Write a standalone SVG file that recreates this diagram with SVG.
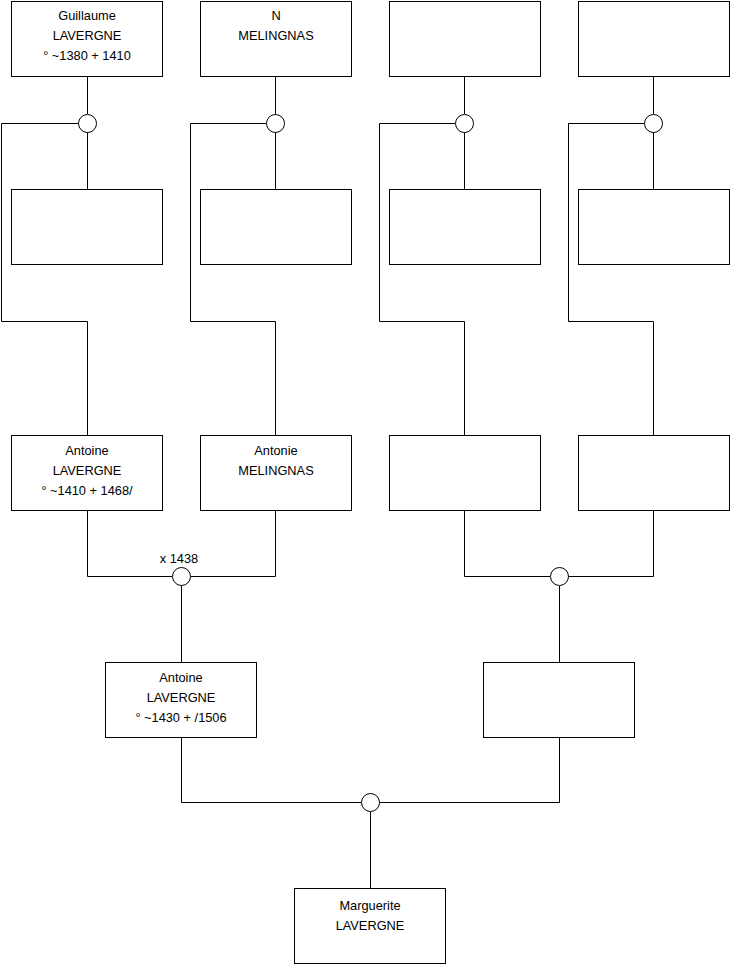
<svg xmlns="http://www.w3.org/2000/svg" width="740" height="975" viewBox="0 0 740 975">
<style>
.box{fill:#fff;stroke:#000;stroke-width:1}
.c{fill:#fff;stroke:#000;stroke-width:1}
.l{fill:none;stroke:#000;stroke-width:1}
text{font-family:"Liberation Sans",Arial,sans-serif;font-size:12.8px;fill:#000;text-anchor:middle}
</style>
<rect width="740" height="975" fill="#fff"/>
<g id="connectors">
<path class="l" d="M87.5 76.5V114M87.5 132V189.5M78 123.5H1.5V321.5H87.5V435.5"/>
<path class="l" d="M275.5 76.5V114M275.5 132V189.5M266 123.5H190.5V321.5H275.5V435.5"/>
<path class="l" d="M464.5 76.5V114M464.5 132V189.5M455 123.5H379.5V321.5H464.5V435.5"/>
<path class="l" d="M653.5 76.5V114M653.5 132V189.5M644 123.5H568.5V321.5H653.5V435.5"/>
<path class="l" d="M87.5 510.5V576.5H172M190 576.5H275.5V510.5M181.5 586V662.5"/>
<path class="l" d="M464.5 510.5V576.5H550M568 576.5H653.5V510.5M559.5 586V662.5"/>
<path class="l" d="M181.5 737.5V802.5H361M379 802.5H559.5V737.5M370.5 812V888.5"/>
<circle class="c" cx="87.5" cy="123.5" r="9"/>
<circle class="c" cx="275.5" cy="123.5" r="9"/>
<circle class="c" cx="464.5" cy="123.5" r="9"/>
<circle class="c" cx="653.5" cy="123.5" r="9"/>
<circle class="c" cx="181.5" cy="576.5" r="9"/>
<circle class="c" cx="559.5" cy="576.5" r="9"/>
<circle class="c" cx="370.5" cy="802.5" r="9"/>
<text x="179" y="562.5">x 1438</text>
</g>
<g id="n1"><rect class="box" x="11.5" y="1.5" width="151" height="75"/><text x="87" y="19.5">Guillaume</text><text x="87" y="39.5">LAVERGNE</text><text x="87" y="59.5">° ~1380 + 1410</text></g>
<g id="n2"><rect class="box" x="200.5" y="1.5" width="151" height="75"/><text x="276" y="19.5">N</text><text x="276" y="39.5">MELINGNAS</text></g>
<g id="n3"><rect class="box" x="389.5" y="1.5" width="151" height="75"/></g>
<g id="n4"><rect class="box" x="578.5" y="1.5" width="151" height="75"/></g>
<g id="n5"><rect class="box" x="11.5" y="189.5" width="151" height="75"/></g>
<g id="n6"><rect class="box" x="200.5" y="189.5" width="151" height="75"/></g>
<g id="n7"><rect class="box" x="389.5" y="189.5" width="151" height="75"/></g>
<g id="n8"><rect class="box" x="578.5" y="189.5" width="151" height="75"/></g>
<g id="n9"><rect class="box" x="11.5" y="435.5" width="151" height="75"/><text x="87" y="454.5">Antoine</text><text x="87" y="474.5">LAVERGNE</text><text x="87" y="494.5">° ~1410 + 1468/</text></g>
<g id="n10"><rect class="box" x="200.5" y="435.5" width="151" height="75"/><text x="276" y="454.5">Antonie</text><text x="276" y="474.5">MELINGNAS</text></g>
<g id="n11"><rect class="box" x="389.5" y="435.5" width="151" height="75"/></g>
<g id="n12"><rect class="box" x="578.5" y="435.5" width="151" height="75"/></g>
<g id="n13"><rect class="box" x="105.5" y="662.5" width="151" height="75"/><text x="181" y="681.5">Antoine</text><text x="181" y="701.5">LAVERGNE</text><text x="181" y="721.5">° ~1430 + /1506</text></g>
<g id="n14"><rect class="box" x="483.5" y="662.5" width="151" height="75"/></g>
<g id="n15"><rect class="box" x="294.5" y="888.5" width="151" height="75"/><text x="370" y="909.5">Marguerite</text><text x="370" y="929.5">LAVERGNE</text></g>
</svg>
